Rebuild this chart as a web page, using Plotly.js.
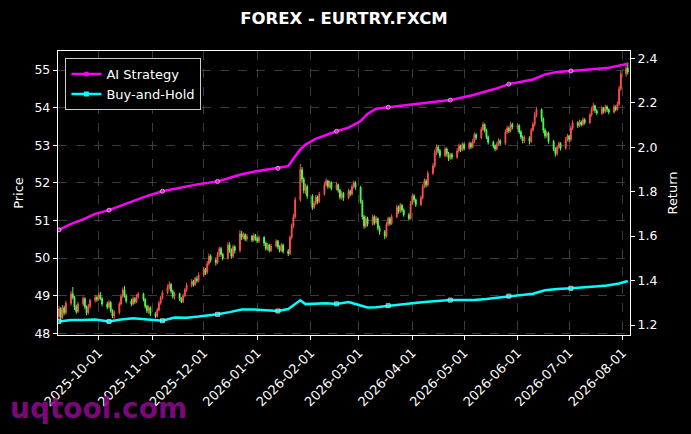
<!DOCTYPE html>
<html>
<head>
<meta charset="utf-8">
<script src="https://cdn.plot.ly/plotly-3.0.1.min.js"></script>
<style>html,body{margin:0;padding:0;background:#000;}#chart{width:691px;height:434px;}</style>
</head>
<body>
<div id="chart"></div>
<script>
// Daily candles (weekdays) starting 2025-09-08
var startDate = '2025-09-08';
var openP = [
48.45,48.65,48.42,48.68,48.55, 48.80,49.05,48.95,48.70,48.58, 48.78,48.92,48.70,48.55,48.72, 48.88,48.95,48.90,49.02,48.92,
48.78,48.70,48.82,48.60,48.46, 48.55,48.78,48.98,49.15,49.00, 48.86,48.78,48.92,48.84,48.98, 49.05,48.90,48.72,48.60,48.68,
48.52,48.45,48.62,48.80,48.95, 49.08,49.22,49.30,49.12,48.98, 49.05,48.92,48.84,49.00,49.15, 49.28,49.38,49.30,49.45,49.40,
49.55,49.70,49.62,49.85,50.05, 49.95,49.88,50.10,50.25,50.10, 50.00,50.35,50.20,50.05,50.30, 50.20,50.65,50.55,50.62,50.50,
50.58,50.48,50.60,50.52,50.45, 50.55,50.40,50.25,50.35,50.20, 50.32,50.45,50.30,50.20,50.35, 50.18,50.12,50.55,50.85,51.10,
51.55,52.35,52.10,51.80,51.90, 51.65,51.35,51.45,51.62,51.50, 51.70,51.95,52.05,51.90,52.00, 51.85,51.95,51.80,51.62,51.72,
51.60,51.78,51.70,51.90,52.00, 51.88,51.50,51.10,50.85,51.05, 50.90,51.10,50.95,51.05,50.80, 50.70,50.58,50.90,51.05,50.92,
51.10,51.35,51.25,51.40,51.28, 51.15,51.05,51.45,51.65,51.55, 51.42,51.60,51.90,52.05,51.95, 52.25,52.45,52.80,52.95,52.85,
52.72,52.90,52.78,52.65,52.75, 52.68,52.85,52.98,52.88,53.02, 52.92,53.05,52.95,53.10,53.28, 53.20,53.42,53.55,53.40,53.22,
53.08,52.98,52.90,53.02,53.12, 53.05,53.35,53.45,53.38,53.55, 53.48,53.52,53.35,53.22,53.12, 53.20,53.10,53.40,53.55,53.80,
53.95,53.70,53.40,53.25,53.32, 53.10,52.90,52.78,52.95,53.05, 52.92,53.15,53.25,53.15,53.45, 53.60,53.52,53.62,53.55,53.68,
53.60,53.80,53.95,54.05,53.92, 53.85,53.98,53.90,54.02,53.95, 53.88,54.02,53.95,54.10,54.50, 54.90,55.05];
var highP = [
48.72,48.70,48.75,48.74,48.86, 49.12,49.23,49.00,48.76,48.84, 48.98,48.96,48.74,48.78,48.92, 49.02,49.00,49.08,49.10,48.96,
48.84,48.88,48.86,48.64,48.62, 48.84,49.04,49.22,49.26,49.04, 48.92,48.98,48.96,49.04,49.10, 49.08,48.94,48.76,48.74,48.72,
48.56,48.68,48.86,49.00,49.14, 49.30,49.38,49.34,49.16,49.10, 49.08,48.96,49.05,49.20,49.34, 49.44,49.42,49.50,49.52,49.62,
49.76,49.74,49.92,50.12,50.10, 50.02,50.16,50.30,50.30,50.14, 50.42,50.42,50.26,50.36,50.34, 50.75,50.72,50.68,50.66,50.64,
50.62,50.66,50.64,50.56,50.60, 50.58,50.44,50.40,50.38,50.38, 50.50,50.48,50.34,50.40,50.38, 50.24,50.60,50.92,51.18,51.62,
52.50,52.42,52.15,51.98,51.95, 51.70,51.52,51.68,51.66,51.76, 52.02,52.12,52.08,52.06,52.04, 52.02,51.98,51.84,51.78,51.76,
51.84,51.82,51.96,52.06,52.04, 51.92,51.55,51.15,51.12,51.10, 51.16,51.14,51.12,51.08,50.86, 50.75,50.96,51.10,51.10,51.16,
51.42,51.40,51.46,51.44,51.32, 51.20,51.52,51.72,51.70,51.58, 51.66,51.96,52.12,52.10,52.32, 52.52,52.88,53.02,53.00,52.90,
52.96,52.94,52.82,52.80,52.80, 52.92,53.04,53.02,53.08,53.06, 53.10,53.08,53.16,53.34,53.32, 53.48,53.62,53.58,53.44,53.26,
53.12,53.02,53.08,53.18,53.16, 53.42,53.52,53.50,53.62,53.60, 53.58,53.56,53.40,53.26,53.26, 53.24,53.46,53.62,53.88,54.02,
53.98,53.74,53.45,53.38,53.36, 53.14,52.94,53.00,53.10,53.08, 53.22,53.30,53.28,53.52,53.66, 53.64,53.68,53.66,53.74,53.72,
53.86,54.02,54.12,54.08,53.96, 54.04,54.02,54.08,54.06,53.98, 54.08,54.06,54.16,54.58,54.98, 55.15,55.20];
var lowP = [
48.38,48.36,48.38,48.48,48.50, 48.74,48.90,48.62,48.52,48.54, 48.72,48.64,48.48,48.50,48.66, 48.82,48.84,48.86,48.88,48.72,
48.64,48.66,48.55,48.40,48.38, 48.50,48.74,48.94,48.95,48.80, 48.72,48.74,48.78,48.80,48.92, 48.85,48.66,48.54,48.52,48.46,
48.40,48.42,48.58,48.76,48.90, 49.04,49.16,49.06,48.92,48.90, 48.86,48.80,48.80,48.96,49.10, 49.22,49.24,49.26,49.34,49.36,
49.50,49.55,49.58,49.80,49.88, 49.80,49.84,50.02,50.04,49.94, 49.96,50.14,49.98,50.00,50.12, 50.15,50.48,50.50,50.45,50.44,
50.42,50.44,50.46,50.40,50.40, 50.32,50.20,50.20,50.15,50.16, 50.28,50.24,50.15,50.16,50.12, 50.05,50.08,50.50,50.80,51.05,
51.50,52.00,51.72,51.70,51.58, 51.28,51.30,51.40,51.44,51.46, 51.66,51.90,51.84,51.86,51.80, 51.80,51.74,51.56,51.55,51.52,
51.56,51.64,51.66,51.85,51.82, 51.45,51.02,50.78,50.80,50.84, 50.86,50.88,50.90,50.74,50.62, 50.50,50.54,50.85,50.86,50.88,
51.06,51.18,51.20,51.22,51.10, 51.00,51.02,51.40,51.48,51.36, 51.38,51.56,51.86,51.88,51.90, 52.20,52.40,52.74,52.78,52.66,
52.68,52.70,52.58,52.60,52.62, 52.64,52.80,52.82,52.84,52.86, 52.88,52.90,52.92,53.05,53.14, 53.16,53.38,53.34,53.16,53.02,
52.92,52.84,52.86,52.98,52.98, 53.00,53.30,53.32,53.34,53.42, 53.42,53.30,53.16,53.05,53.06, 53.02,53.06,53.36,53.50,53.74,
53.62,53.32,53.18,53.20,53.04, 52.84,52.70,52.72,52.90,52.86, 52.88,53.10,53.08,53.10,53.40, 53.46,53.48,53.50,53.52,53.55,
53.56,53.76,53.90,53.86,53.80, 53.80,53.84,53.86,53.88,53.82, 53.84,53.90,53.92,54.05,54.45, 54.82,54.88];
var closeP = [
48.65,48.42,48.68,48.55,48.80, 49.05,48.95,48.70,48.58,48.78, 48.92,48.70,48.55,48.72,48.88, 48.95,48.90,49.02,48.92,48.78,
48.70,48.82,48.60,48.46,48.55, 48.78,48.98,49.15,49.00,48.86, 48.78,48.92,48.84,48.98,49.05, 48.90,48.72,48.60,48.68,48.52,
48.45,48.62,48.80,48.95,49.08, 49.22,49.30,49.12,48.98,49.05, 48.92,48.84,49.00,49.15,49.28, 49.38,49.30,49.45,49.40,49.55,
49.70,49.62,49.85,50.05,49.95, 49.88,50.10,50.25,50.10,50.00, 50.35,50.20,50.05,50.30,50.20, 50.65,50.55,50.62,50.50,50.58,
50.48,50.60,50.52,50.45,50.55, 50.40,50.25,50.35,50.20,50.32, 50.45,50.30,50.20,50.35,50.18, 50.12,50.55,50.85,51.10,51.55,
52.35,52.10,51.80,51.90,51.65, 51.35,51.45,51.62,51.50,51.70, 51.95,52.05,51.90,52.00,51.85, 51.95,51.80,51.62,51.72,51.60,
51.78,51.70,51.90,52.00,51.88, 51.50,51.10,50.85,51.05,50.90, 51.10,50.95,51.05,50.80,50.70, 50.58,50.90,51.05,50.92,51.10,
51.35,51.25,51.40,51.28,51.15, 51.05,51.45,51.65,51.55,51.42, 51.60,51.90,52.05,51.95,52.25, 52.45,52.80,52.95,52.85,52.72,
52.90,52.78,52.65,52.75,52.68, 52.85,52.98,52.88,53.02,52.92, 53.05,52.95,53.10,53.28,53.20, 53.42,53.55,53.40,53.22,53.08,
52.98,52.90,53.02,53.12,53.05, 53.35,53.45,53.38,53.55,53.48, 53.52,53.35,53.22,53.12,53.20, 53.10,53.40,53.55,53.80,53.95,
53.70,53.40,53.25,53.32,53.10, 52.90,52.78,52.95,53.05,52.92, 53.15,53.25,53.15,53.45,53.60, 53.52,53.62,53.55,53.68,53.60,
53.80,53.95,54.05,53.92,53.85, 53.98,53.90,54.02,53.95,53.88, 54.02,53.95,54.10,54.50,54.90, 55.05,54.95];

// Strategy return curves (right axis)
var lineDates = ['2025-09-08','2025-09-15','2025-09-22','2025-09-29','2025-10-07','2025-10-14','2025-10-21','2025-10-28',
'2025-11-07','2025-11-14','2025-11-21','2025-11-28','2025-12-09','2025-12-16','2025-12-23','2025-12-30',
'2026-01-06','2026-01-13','2026-01-19','2026-01-22','2026-01-26','2026-01-29','2026-02-04','2026-02-10',
'2026-02-16','2026-02-23','2026-03-02','2026-03-06','2026-03-11','2026-03-18','2026-03-25','2026-04-01',
'2026-04-08','2026-04-15','2026-04-23','2026-04-30','2026-05-07','2026-05-14','2026-05-20','2026-05-27',
'2026-06-03','2026-06-10','2026-06-17','2026-06-24','2026-07-02','2026-07-09','2026-07-16','2026-07-23',
'2026-07-30','2026-08-04'];
var aiStrategy = [1.628,1.655,1.675,1.700,1.717,1.738,1.759,1.778,
1.802,1.813,1.824,1.834,1.846,1.862,1.878,1.890,
1.898,1.905,1.915,1.948,1.990,2.012,2.038,2.055,
2.072,2.088,2.118,2.150,2.173,2.180,2.186,2.192,
2.198,2.204,2.212,2.224,2.236,2.252,2.265,2.284,
2.295,2.305,2.328,2.338,2.343,2.346,2.352,2.356,
2.368,2.376];
var buyHold = [1.216,1.222,1.222,1.225,1.216,1.225,1.230,1.226,
1.219,1.234,1.233,1.238,1.248,1.258,1.270,1.270,
1.268,1.263,1.272,1.288,1.311,1.294,1.297,1.298,
1.295,1.303,1.288,1.279,1.280,1.287,1.292,1.298,
1.303,1.308,1.312,1.312,1.312,1.317,1.322,1.330,
1.334,1.341,1.356,1.362,1.365,1.368,1.373,1.378,
1.387,1.398];
var markerIdx = [0,4,8,12,17,24,29,34,39,44];

var monthTicks = ['2025-10-01','2025-11-01','2025-12-01','2026-01-01','2026-02-01','2026-03-01',
'2026-04-01','2026-05-01','2026-06-01','2026-07-01','2026-08-01'];

// weekday calendar for candles
function weekdays(start, n){
  var out=[]; var d=new Date(start+'T00:00:00Z');
  while(out.length<n){
    var wd=d.getUTCDay();
    if(wd!==0 && wd!==6){ out.push(d.toISOString().slice(0,10)); }
    d.setUTCDate(d.getUTCDate()+1);
  }
  return out;
}
var candleDates = weekdays(startDate, openP.length);
var mSizes = lineDates.map(function(_,i){ return markerIdx.indexOf(i)>=0 ? 4 : 0; });

var RED='#ff4f4f', GREEN='#4cff4c', MAG='#ff00ff', CYAN='#00ffff';
var FONT='DejaVu Sans, sans-serif';

var traces = [
  {type:'candlestick', x:candleDates, open:openP, high:highP, low:lowP, close:closeP,
   xaxis:'x', yaxis:'y', showlegend:false, whiskerwidth:0,
   increasing:{line:{color:RED,width:1}, fillcolor:RED},
   decreasing:{line:{color:GREEN,width:1}, fillcolor:GREEN}, hoverinfo:'skip'},
  {type:'scatter', mode:'lines+markers', x:lineDates, y:aiStrategy, yaxis:'y2', showlegend:false,
   line:{color:MAG,width:2.5}, marker:{color:MAG,size:mSizes,symbol:'circle'}},
  {type:'scatter', mode:'lines+markers', x:lineDates, y:buyHold, yaxis:'y2', showlegend:false,
   line:{color:CYAN,width:2.5}, marker:{color:CYAN,size:mSizes,symbol:'square'}},
  {type:'scatter', mode:'lines+markers', x:[null], y:[null], yaxis:'y2', name:'AI Strategy',
   line:{color:MAG,width:2.5}, marker:{color:MAG,size:5,symbol:'circle'}},
  {type:'scatter', mode:'lines+markers', x:[null], y:[null], yaxis:'y2', name:'Buy-and-Hold',
   line:{color:CYAN,width:2.5}, marker:{color:CYAN,size:5,symbol:'square'}}
];

var layout = {
  width:691, height:434,
  paper_bgcolor:'#000', plot_bgcolor:'#000',
  font:{family:FONT, color:'#ffffff', size:13},
  margin:{l:58, r:61, t:51, b:99},
  title:{text:'<b>FOREX - EURTRY.FXCM</b>', font:{family:FONT,size:16.5,color:'#ffffff'},
         x:0.5, xref:'paper', xanchor:'center', y:0.958, yanchor:'middle'},
  showlegend:true,
  legend:{x:0.013, y:0.975, xanchor:'left', yanchor:'top', bgcolor:'#000',
          bordercolor:'#cccccc', borderwidth:1, font:{family:FONT,size:13,color:'#ffffff'},
          tracegroupgap:0},
  xaxis:{type:'date', range:['2025-09-07 10:00','2026-08-05 07:00'],
         tickvals:monthTicks, ticktext:monthTicks, tickangle:-45,
         ticks:'outside', ticklen:4, tickcolor:'#ffffff', tickfont:{size:13,color:'#ffffff'},
         showline:true, linecolor:'#ffffff', linewidth:1.2, mirror:true,
         showgrid:true, gridcolor:'#4a4a4a', griddash:'dash', gridwidth:0.8,
         zeroline:false, rangeslider:{visible:false}, fixedrange:true},
  yaxis:{range:[47.955,55.505], dtick:1, tick0:48, ticks:'outside', ticklen:4, tickcolor:'#ffffff',
         tickfont:{size:12.5,color:'#ffffff'},
         showline:true, linecolor:'#ffffff', linewidth:1.2, mirror:true,
         showgrid:true, gridcolor:'#4a4a4a', griddash:'dash', gridwidth:0.8, zeroline:false,
         title:{text:'Price', font:{size:13,color:'#ffffff'}, standoff:7}},
  yaxis2:{overlaying:'y', side:'right', range:[1.155,2.433], dtick:0.2, tick0:1.2, tickformat:'.1f',
          ticks:'outside', ticklen:4, tickcolor:'#ffffff', tickfont:{size:12.5,color:'#ffffff'},
          showline:false, showgrid:false, zeroline:false,
          title:{text:'Return', font:{size:13,color:'#ffffff'}, standoff:11}},
  annotations:[{text:'<b>uqtool.com</b>', xref:'paper', yref:'paper', x:-0.087, y:-0.26,
                xanchor:'left', yanchor:'middle', showarrow:false,
                font:{family:FONT, size:28, color:'rgba(140,10,140,0.9)'}}]
};

Plotly.newPlot('chart', traces, layout, {displayModeBar:false, staticPlot:true});
</script>
</body>
</html>
